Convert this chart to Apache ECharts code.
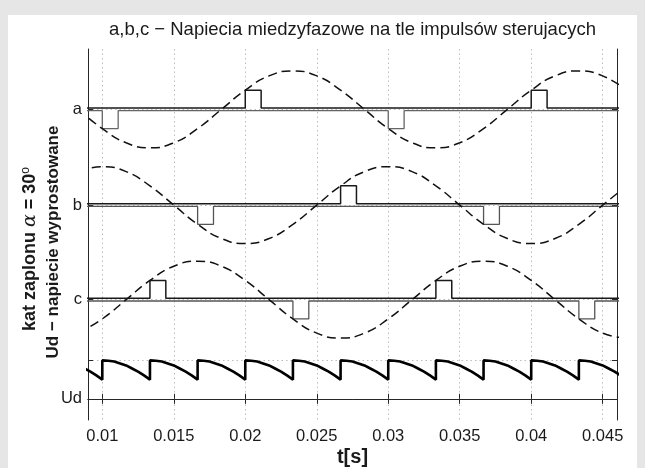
<!DOCTYPE html>
<html>
<head>
<meta charset="utf-8">
<script src="https://cdn.jsdelivr.net/npm/echarts@6/dist/echarts.min.js"></script>
<style>
html, body { margin: 0; padding: 0; background: #e6e6e6; }
#chart { position: absolute; left: 8px; top: 15px; width: 629px; height: 453px; background: #fff; }
</style>
</head>
<body>
<div id="chart"></div>
<script>
// time samples (every 30 deg of 50 Hz) for the dashed phase curves
var tGrid = [0.008333, 0.01, 0.011667, 0.013333, 0.015, 0.016667, 0.018333, 0.02,
    0.021667, 0.023333, 0.025, 0.026667, 0.028333, 0.03, 0.031667, 0.033333,
    0.035, 0.036667, 0.038333, 0.04, 0.041667, 0.043333, 0.045, 0.046667];
var phaseA = [0, -0.5, -0.87, -1, -0.87, -0.5, 0, 0.5, 0.87, 1, 0.87, 0.5,
    0, -0.5, -0.87, -1, -0.87, -0.5, 0, 0.5, 0.87, 1, 0.87, 0.5];
var phaseB = [0.87, 1, 0.87, 0.5, 0, -0.5, -0.87, -1, -0.87, -0.5, 0, 0.5,
    0.87, 1, 0.87, 0.5, 0, -0.5, -0.87, -1, -0.87, -0.5, 0, 0.5];
var phaseC = [-0.87, -0.5, 0, 0.5, 0.87, 1, 0.87, 0.5, 0, -0.5, -0.87, -1,
    -0.87, -0.5, 0, 0.5, 0.87, 1, 0.87, 0.5, 0, -0.5, -0.87, -1];

// firing pulses (start times)
var pulsePosA = [0.02, 0.04];
var pulseNegA = [0.01, 0.03];
var pulsePosB = [0.006667, 0.026667];
var pulseNegB = [0.016667, 0.036667];
var pulsePosC = [0.013333, 0.033333];
var pulseNegC = [0.023333, 0.043333];
var pulseWidth = 0.00111;
var pulseHeight = 0.465;

// rectified voltage: jump times and the shape of one segment
var udJumps = [0.006667, 0.01, 0.013333, 0.016667, 0.02, 0.023333, 0.026667,
    0.03, 0.033333, 0.036667, 0.04, 0.043333];
var udSegment = 0.003333;
var udShape = [1, 0.99, 0.97, 0.92, 0.87, 0.79, 0.71, 0.61, 0.5];

var xTicks = [0.01, 0.015, 0.02, 0.025, 0.03, 0.035, 0.04, 0.045];
var yTicks = [0, 1, 2.58, 5.04, 7.53];
var yLabels = ['Ud', '', 'c', 'b', 'a'];

var xMin = 0.009, xMax = 0.046;
var FONT = "'Liberation Sans', Arial, Helvetica, sans-serif";

function sine(dev, lvl) {
    return tGrid.map(function (t, i) { return [t, lvl + dev[i]]; });
}
function pulses(starts, lvl, sign) {
    var d = [[xMin - 0.002, lvl]];
    starts.forEach(function (s) {
        d.push([s, lvl], [s, lvl + sign * pulseHeight],
            [s + pulseWidth, lvl + sign * pulseHeight], [s + pulseWidth, lvl]);
    });
    d.push([xMax + 0.002, lvl]);
    return d;
}
var udData = [];
udJumps.forEach(function (t0) {
    udShape.forEach(function (v, i) {
        udData.push([t0 + i * udSegment / (udShape.length - 1), v]);
    });
});

function lineSeries(data, color, width, dash, smooth) {
    return {
        type: 'line', data: data, showSymbol: false, symbol: 'none',
        smooth: smooth || false, silent: true, animation: false,
        lineStyle: { color: color, width: width, type: dash || 'solid' }
    };
}

var chart = echarts.init(document.getElementById('chart'));

var axisLine = { show: true, lineStyle: { color: '#262626', width: 1 } };
var gridLine = { show: true, lineStyle: { color: '#bdbdbd', width: 1, type: [1.5, 3] } };

var option = {
    animation: false,
    grid: { left: 80, top: 34, right: 20, bottom: 48 },
    xAxis: [{
        type: 'value', min: xMin, max: xMax, position: 'bottom',
        axisLine: axisLine,
        axisTick: { inside: true, length: 5, customValues: xTicks, lineStyle: { color: '#262626' } },
        axisLabel: { customValues: xTicks, margin: 8, color: '#1a1a1a', fontSize: 16.5, fontFamily: FONT },
        splitLine: gridLine
    }, {
        type: 'value', min: xMin, max: xMax, position: 'top',
        axisLine: axisLine,
        axisTick: { inside: true, length: 5, customValues: xTicks, lineStyle: { color: '#262626' } },
        axisLabel: { show: false },
        splitLine: { show: false }
    }],
    yAxis: [{
        type: 'value', min: -0.55, max: 9.1, position: 'left',
        axisLine: axisLine,
        axisTick: { inside: true, length: 5, customValues: yTicks, lineStyle: { color: '#262626' } },
        axisLabel: {
            customValues: [0, 2.58, 5.04, 7.53], margin: 6, color: '#1a1a1a', fontSize: 16.5, fontFamily: FONT,
            formatter: function (v) {
                var i = yTicks.indexOf(v);
                return i >= 0 ? yLabels[i] : '';
            }
        },
        splitLine: gridLine
    }, {
        type: 'value', min: -0.55, max: 9.1, position: 'right',
        axisLine: axisLine,
        axisTick: { inside: true, length: 5, customValues: yTicks, lineStyle: { color: '#262626' } },
        axisLabel: { show: false },
        splitLine: { show: false }
    }],
    series: [
        lineSeries(pulses(pulseNegA, yTicks[4] - 0.035, -1), '#666', 1.3),
        lineSeries(pulses(pulsePosA, yTicks[4] + 0.035, 1), '#1a1a1a', 1.5),
        lineSeries(pulses(pulseNegB, yTicks[3] - 0.035, -1), '#555', 1.3),
        lineSeries(pulses(pulsePosB, yTicks[3] + 0.035, 1), '#1a1a1a', 1.5),
        lineSeries(pulses(pulseNegC, yTicks[2] - 0.035, -1), '#555', 1.3),
        lineSeries(pulses(pulsePosC, yTicks[2] + 0.035, 1), '#1a1a1a', 1.5),
        lineSeries(sine(phaseA, yTicks[4]), '#111', 1.5, [9, 5], 0.5),
        lineSeries(sine(phaseB, yTicks[3]), '#111', 1.5, [9, 5], 0.5),
        lineSeries(sine(phaseC, yTicks[2]), '#111', 1.5, [9, 5], 0.5),
        lineSeries(udData, '#000', 2.6)
    ],
    graphic: [{
        type: 'text', x: 344.5, y: 15,
        style: {
            text: 'a,b,c \u2212 Napiecia miedzyfazowe na tle impulsów sterujacych',
            font: '18.5px ' + FONT, fill: '#1a1a1a', textAlign: 'center', textVerticalAlign: 'middle'
        }
    }, {
        type: 'text', x: 344.5, y: 442,
        style: {
            text: 't[s]', font: 'bold 20px ' + FONT, fill: '#1a1a1a',
            textAlign: 'center', textVerticalAlign: 'middle'
        }
    }, {
        type: 'text', x: 22, y: 234, rotation: Math.PI / 2,
        style: {
            text: 'kat zaplonu {g|\u03b1} = 30{sup|o}',
            font: 'bold 18px ' + FONT, fill: '#1a1a1a',
            textAlign: 'center', textVerticalAlign: 'middle',
            rich: {
                g: { fontStyle: 'italic', fontWeight: 'normal', fontSize: 19, fontFamily: "'DejaVu Serif', serif", fill: '#1a1a1a' },
                sup: { fontSize: 12, fontWeight: 'normal', fontFamily: FONT, verticalAlign: 'top', padding: [0, 0, 9, 0], fill: '#1a1a1a' }
            }
        }
    }, {
        type: 'text', x: 45, y: 227, rotation: Math.PI / 2,
        style: {
            text: 'Ud \u2212 napiecie wyprostowane',
            font: 'bold 17px ' + FONT, fill: '#1a1a1a',
            textAlign: 'center', textVerticalAlign: 'middle'
        }
    }]
};

chart.setOption(option);
</script>
</body>
</html>
